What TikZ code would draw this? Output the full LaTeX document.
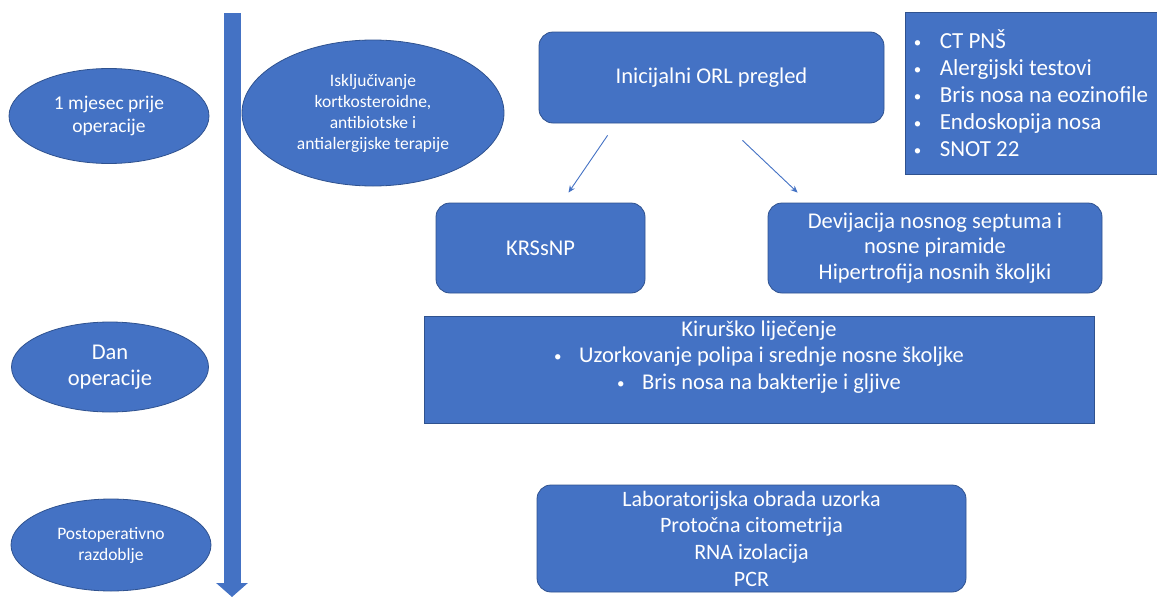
\documentclass[tikz,border=0pt]{standalone}
\usepackage{fontspec}
\setmainfont{Carlito}
\usetikzlibrary{shapes.geometric,arrows.meta,positioning}
\definecolor{boxblue}{HTML}{4472C4}
\definecolor{edgeblue}{HTML}{2F528F}
\newcommand{\itemdot}[1]{\makebox[#1][l]{\fontsize{15}{15}\selectfont\raisebox{1pt}{•}}}

\begin{document}
\begin{tikzpicture}[x=1pt,y=-1pt,draw=edgeblue,text=white]
  \tikzstyle{phase}=[ellipse,fill=boxblue,draw=edgeblue,line width=0.8pt,inner sep=0pt,align=center]
  \tikzstyle{rbox}=[rectangle,rounded corners=14pt,fill=boxblue,draw=edgeblue,line width=0.8pt,align=center,font=\fontsize{22.5}{25.5}\selectfont]
  \tikzstyle{sbox}=[rectangle,fill=boxblue,draw=edgeblue,line width=0.8pt]
  \tikzstyle{flow}=[draw=boxblue,line width=0.9pt,-{Stealth[length=7pt,width=6pt]}]

  \useasboundingbox (0,0) rectangle (1157,597);

  % time axis
  \coordinate (T-top) at (232,13);
  \coordinate (T-end) at (232,597);
  \draw[draw=boxblue,line width=17pt,-{Triangle[length=14pt,width=31pt]}] (T-top) -- (T-end);

  % phases on the left
  \node[phase,minimum width=200pt,minimum height=95pt,font=\fontsize{19.5}{23}\selectfont] (P-1) at (109,116) {1 mjesec prije\\operacije};
  \node[phase,minimum width=197pt,minimum height=90pt,font=\fontsize{22.5}{26}\selectfont] (P-2) at (110,367) {Dan\\operacije};
  \node[phase,minimum width=200pt,minimum height=92pt,font=\fontsize{17.5}{21}\selectfont] (P-3) at (111,545) {Postoperativno\\razdoblje};

  \node[phase,minimum width=262pt,minimum height=146pt,font=\fontsize{17.5}{21}\selectfont] (excl) at (373,113)
    {Isključivanje\\kortkosteroidne,\\antibiotske i\\antialergijske terapije};

  % examination
  \node[rbox,minimum width=345pt,minimum height=91pt] (orl) at (711.5,77.5) {Inicijalni ORL pregled};
  \node[sbox,minimum width=252pt,minimum height=162pt,align=left,
        font=\fontsize{23}{27}\selectfont] (tests) at (1031,93)
    {\itemdot{26pt}CT PNŠ\\
     \itemdot{26pt}Alergijski testovi\\
     \itemdot{26pt}Bris nosa na eozinofile\\
     \itemdot{26pt}Endoskopija nosa\\
     \itemdot{26pt}SNOT 22};

  \node[rbox,minimum width=209pt,minimum height=90pt] (krs) at (540.5,248) {KRSsNP};
  \node[rbox,minimum width=334pt,minimum height=90pt] (devi) at (935,248)
    {Devijacija nosnog septuma i\\nosne piramide\\Hipertrofija nosnih školjki};

  \draw[flow] ([xshift=69pt,yshift=-12pt]orl.south west) -- ([xshift=28pt,yshift=10pt]krs.north);
  \draw[flow] ([xshift=31pt,yshift=-17pt]orl.south) -- ([xshift=30pt,yshift=10pt]devi.north west);

  % surgery
  \node[sbox,minimum width=670pt,minimum height=107pt] (surg) at (759,369.5) {};
  \node[align=center,inner sep=0pt,font=\fontsize{22.5}{26.5}\selectfont] (surg-text) at (759,357)
    {Kirurško liječenje\\
     \itemdot{25pt}Uzorkovanje polipa i srednje nosne školjke\\
     \itemdot{25pt}Bris nosa na bakterije i gljive};

  % laboratory
  \node[rbox,minimum width=429pt,minimum height=107pt,font=\fontsize{22}{26.7}\selectfont] (lab) at (751.5,538.5)
    {Laboratorijska obrada uzorka\\Protočna citometrija\\RNA izolacija\\PCR};
\end{tikzpicture}
\end{document}
